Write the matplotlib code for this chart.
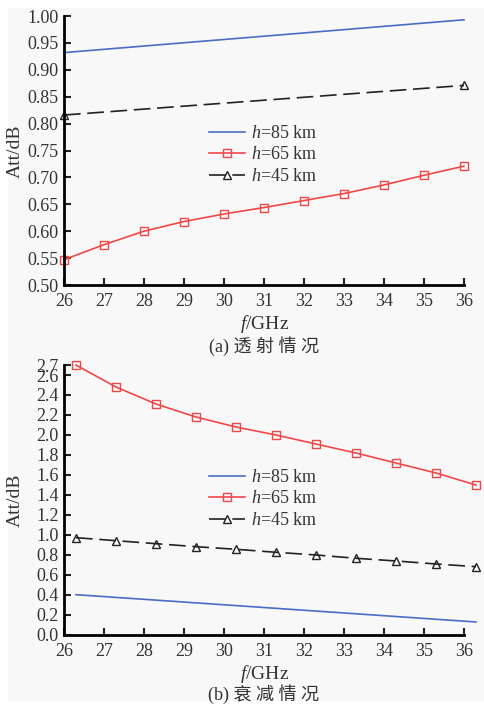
import matplotlib
matplotlib.use("Agg")
import matplotlib.pyplot as plt
from matplotlib.patches import Rectangle

plt.rcParams["font.family"] = ["Liberation Serif", "Noto Sans CJK SC", "DejaVu Sans"]
plt.rcParams["mathtext.fontset"] = "custom"
plt.rcParams["mathtext.rm"] = "Liberation Serif"
plt.rcParams["mathtext.it"] = "Liberation Serif:italic"

# (a) transmission
freq_a = [26, 27, 28, 29, 30, 31, 32, 33, 34, 35, 36]
freq_a_ends = [26, 36]
att_a_85 = [0.932, 0.993]
att_a_65 = [0.547, 0.575, 0.600, 0.618, 0.632, 0.644, 0.657, 0.670, 0.686, 0.704, 0.721]
att_a_45 = [0.816, 0.871]

# (b) attenuation
freq_b = [26.3, 27.3, 28.3, 29.3, 30.3, 31.3, 32.3, 33.3, 34.3, 35.3, 36.3]
freq_b_ends = [26.3, 36.3]
att_b_85 = [0.403, 0.130]
att_b_65 = [2.70, 2.48, 2.31, 2.18, 2.08, 2.00, 1.91, 1.82, 1.72, 1.62, 1.50]
att_b_45 = [0.973, 0.943, 0.913, 0.883, 0.857, 0.827, 0.800, 0.767, 0.740, 0.710, 0.683]

xticks = list(range(26, 37))
yticks_a = [0.50, 0.55, 0.60, 0.65, 0.70, 0.75, 0.80, 0.85, 0.90, 0.95, 1.00]
yticks_b = [0.0, 0.2, 0.4, 0.6, 0.8, 1.0, 1.2, 1.4, 1.6, 1.8, 2.0, 2.2, 2.4, 2.6, 2.7]

labels = ["$h$=85 km", "$h$=65 km", "$h$=45 km"]
blue = "#4a6cc4"
red = "#f04848"
dark = "#222222"
fs = 13

fig = plt.figure(figsize=(4.84, 7.06), dpi=100)
fig.patch.set_facecolor("white")
fig.patches.append(Rectangle((8 / 484, 5 / 706), 1, 1 - 13 / 706, transform=fig.transFigure,
                             facecolor="#f8f8f8", edgecolor="none", zorder=-10))

ax1 = fig.add_axes([0.1322, 0.5963, 0.8264, 0.381])
ax2 = fig.add_axes([0.1322, 0.1006, 0.8264, 0.3824])


def style(ax, yticks, fmt):
    ax.set_facecolor("none")
    for s in ["top", "right"]:
        ax.spines[s].set_visible(False)
    for s in ["left", "bottom"]:
        ax.spines[s].set_linewidth(2.0)
    ax.set_xlim(26, 36)
    ax.set_ylim(yticks[0], yticks[-1])
    ax.set_xticks(xticks)
    ax.set_yticks(yticks)
    ax.set_yticklabels([fmt.format(v) for v in yticks])
    ax.tick_params(axis="both", direction="in", length=5, width=1.5, labelsize=fs,
                   color=dark, labelcolor="#333333")
    ax.tick_params(axis="x", pad=6)
    ax.tick_params(axis="y", pad=4)


def add_legend(ax, y):
    ax.legend(loc="upper left", bbox_to_anchor=(0.3625, y), frameon=False, fontsize=fs,
              borderpad=0, borderaxespad=0, handlelength=2.0, handletextpad=0.3,
              labelspacing=0.25, labelcolor="#333333")


ax1.plot(freq_a_ends, att_a_85, color=blue, lw=1.2, label=labels[0], clip_on=False)
ax1.plot(freq_a, att_a_65, color=red, lw=1.2, marker="s", ms=6, mfc="none", mec=red, mew=1.0,
         label=labels[1], clip_on=False)
ax1.plot(freq_a_ends, att_a_45, color=dark, lw=1.2, ls=(0, (10, 4)), marker="^", ms=6,
         mfc="none", mew=1.0, label=labels[2], clip_on=False)
style(ax1, yticks_a, "{:.2f}")
add_legend(ax1, 0.595)

ax2.plot(freq_b_ends, att_b_85, color=blue, lw=1.2, label=labels[0], clip_on=False)
ax2.plot(freq_b, att_b_65, color=red, lw=1.2, marker="s", ms=6, mfc="none", mec=red, mew=1.0,
         label=labels[1], clip_on=False)
ax2.plot(freq_b, att_b_45, color=dark, lw=1.2, ls=(0, (10, 4)), marker="^", ms=6,
         mfc="none", mew=1.0, label=labels[2], clip_on=False)
style(ax2, yticks_b, "{:.1f}")
add_legend(ax2, 0.615)

# axis labels and captions
txt = dict(ha="center", va="center", color="#333333")
fig.text(15 / 484, 1 - 151 / 706, "Att/dB", rotation=90, fontsize=fs + 1, **txt)
fig.text(15 / 484, 1 - 500 / 706, "Att/dB", rotation=90, fontsize=fs + 1, **txt)
fig.text(265 / 484, 1 - 324 / 706, "$f$/GHz", fontsize=fs + 1, **txt)
fig.text(265 / 484, 1 - 674 / 706, "$f$/GHz", fontsize=fs + 1, **txt)
fig.text(264 / 484, 1 - 346 / 706, "(a) 透 射 情 况", fontsize=fs, **txt)
fig.text(264 / 484, 1 - 694 / 706, "(b) 衰 减 情 况", fontsize=fs, **txt)

fig.savefig("out.png", dpi=100, facecolor=fig.get_facecolor())
plt.close(fig)
